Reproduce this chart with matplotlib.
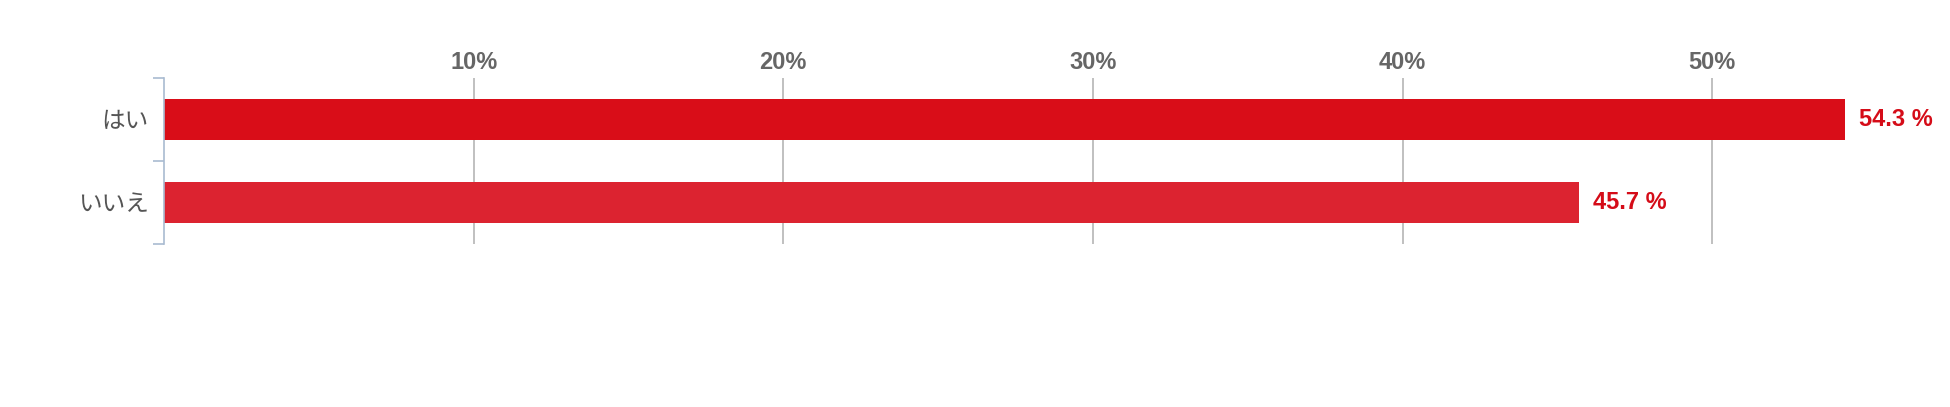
import numpy as np
import matplotlib.pyplot as plt

categories = ["はい", "いいえ"]
values = [54.3, 45.7]
bar_colors = ["#d90d18", "#dc2330"]
ticks = [10, 20, 30, 40, 50]

plt.rcParams['font.family'] = ['Liberation Sans', 'Noto Sans CJK JP', 'DejaVu Sans']

fig = plt.figure(figsize=(19.5, 4.07), dpi=100)
ax = fig.add_axes([164 / 1950, 1 - 244 / 407, (1867 - 164) / 1950, 166 / 407])

y = np.arange(len(categories))
ax.barh(y, values, height=0.5, color=bar_colors, zorder=2)
ax.set_xlim(0, 55)
ax.set_ylim(1.5, -0.5)

# vertical grid lines at each tick
for t in ticks:
    ax.axvline(t, color="#b5b5b5", lw=1.2, zorder=1)

ax.xaxis.tick_top()
ax.set_xticks(ticks)
ax.set_xticklabels([f"{t}%" for t in ticks], fontsize=17, fontweight="bold", color="#666666")
ax.tick_params(axis="x", length=0, pad=3)

ax.set_yticks(y)
ax.set_yticklabels(categories, fontsize=17, color="#555555", family=['Noto Sans CJK JP', 'DejaVu Sans'])
ax.set_yticks([-0.5, 0.5, 1.5], minor=True)
ax.tick_params(axis="y", which="major", length=0, pad=11)
ax.tick_params(axis="y", which="minor", length=8, width=1.2, color="#a9bbd1")

for s in ["top", "right", "bottom"]:
    ax.spines[s].set_visible(False)
ax.spines["left"].set_color("#a9bbd1")
ax.spines["left"].set_linewidth(1.2)

for yi, v in zip(y, values):
    ax.text(v + 0.45, yi, f"{v} %", va="center", ha="left", fontsize=17,
            fontweight="bold", color="#d50c18")

fig.savefig("out.png", dpi=100)
